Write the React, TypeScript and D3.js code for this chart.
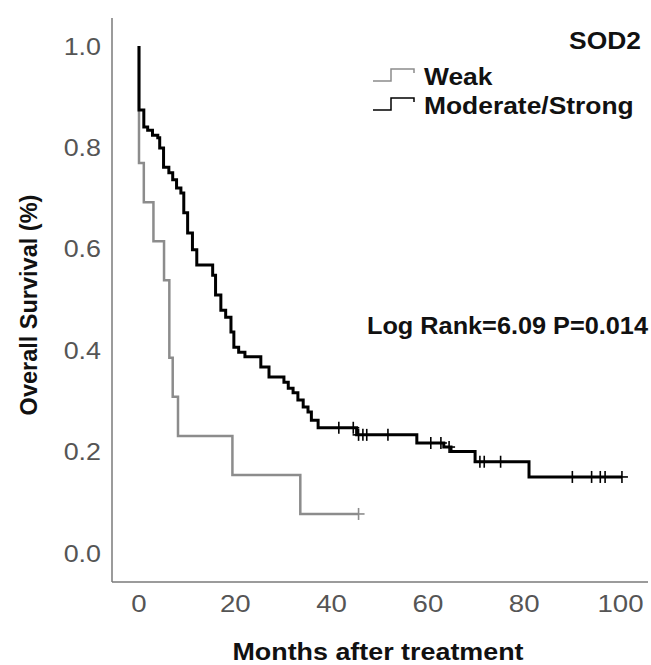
import React, { useEffect, useRef } from "react";
import * as d3 from "d3";

// Kaplan-Meier steps: survival drops to S at time t
const strongTimes = [0, 0, 1.0, 1.8, 2.8, 3.9, 4.3, 5.1, 6.2, 7.0, 7.8, 8.7, 9.3, 10.1, 11.1, 12.0, 15.3, 15.9, 17.0, 18.0, 19.1, 19.7, 20.7, 22.0, 25.3, 27.0, 30.1, 31.0, 32.0, 33.0, 34.1, 35.1, 35.8, 37.2, 45.2, 57.7, 63.3, 64.8, 69.8, 81.0];
const strongSurv = [1.0, 0.874, 0.840, 0.834, 0.824, 0.819, 0.799, 0.761, 0.750, 0.736, 0.720, 0.710, 0.671, 0.631, 0.598, 0.568, 0.548, 0.509, 0.479, 0.465, 0.436, 0.406, 0.396, 0.387, 0.367, 0.347, 0.337, 0.325, 0.316, 0.302, 0.288, 0.278, 0.262, 0.247, 0.233, 0.217, 0.209, 0.200, 0.180, 0.150];
const strongCensored = [41.5, 44.5, 45.6, 46.5, 47.3, 51.7, 60.6, 62.7, 64.4, 70.8, 71.7, 75.1, 90.0, 94.0, 95.8, 96.8, 100.3];

const weakTimes = [0, 0, 1.0, 3.0, 5.2, 6.3, 7.0, 8.1, 19.4, 33.5];
const weakSurv = [1.0, 0.769, 0.692, 0.615, 0.538, 0.385, 0.308, 0.231, 0.154, 0.077];
const weakCensored = [45.6];

const xTicks = [0, 20, 40, 60, 80, 100];
const yTicks = [0, 0.2, 0.4, 0.6, 0.8, 1.0];

const groups = [
  { name: "Weak", times: weakTimes, surv: weakSurv, censored: weakCensored, color: "#8c8c8c", width: 2.5 },
  { name: "Moderate/Strong", times: strongTimes, surv: strongSurv, censored: strongCensored, color: "#000000", width: 3 }
];

const FONT = "'Liberation Sans', Arial, sans-serif";

export default function App() {
  const ref = useRef<SVGSVGElement>(null);

  useEffect(() => {
    const svg = d3.select(ref.current);
    svg.selectAll("*").remove();

    const x = d3.scaleLinear().domain([0, 100]).range([139, 620.5]);
    const y = d3.scaleLinear().domain([0, 1]).range([553, 46]);

    // horizontally text in the source image is a bit wider than tall
    const label = (px: number, py: number, txt: string, size: number, anchor: string, bold: boolean, sx = 1.1) =>
      svg.append("text")
        .attr("transform", `translate(${px},${py}) scale(${sx},1)`)
        .attr("text-anchor", anchor).attr("font-family", FONT).attr("font-size", size)
        .attr("font-weight", bold ? "bold" : "normal")
        .attr("fill", bold ? "#111" : "#555").text(txt);

    // axis lines (box without top/right)
    svg.append("line").attr("x1", 112).attr("x2", 112).attr("y1", 18).attr("y2", 582)
      .attr("stroke", "#7a7a7a").attr("stroke-width", 1.5);
    svg.append("line").attr("x1", 112).attr("x2", 648).attr("y1", 582).attr("y2", 582)
      .attr("stroke", "#7a7a7a").attr("stroke-width", 1.5);

    // tick labels
    yTicks.forEach(d => label(101, y(d) + 8.5, d3.format(".1f")(d), 24, "end", false, 1.12));
    xTicks.forEach(d => label(x(d), 612, String(d), 24, "middle", false, 1.15));

    // curves, weak first so the black one sits on top
    const line = d3.line<[number, number]>()
      .x(d => x(d[0])).y(d => y(d[1]))
      .curve(d3.curveStepAfter);

    const stepAt = (times: number[], surv: number[], t: number) => {
      let s = surv[0];
      times.forEach((tt, i) => { if (tt <= t) s = surv[i]; });
      return s;
    };

    groups.forEach(g => {
      const pts: [number, number][] = g.times.map((t, i) => [t, g.surv[i]]);
      const end = d3.max(g.censored) as number;
      pts.push([end, g.surv[g.surv.length - 1]]);
      svg.append("path").attr("d", line(pts)).attr("fill", "none")
        .attr("stroke", g.color).attr("stroke-width", g.width);

      const marks = svg.append("g").attr("stroke", g.color).attr("stroke-width", 1.6);
      g.censored.forEach(t => {
        const cx = x(t);
        const cy = y(stepAt(g.times, g.surv, t));
        marks.append("line").attr("x1", cx).attr("x2", cx).attr("y1", cy - 6).attr("y2", cy + 6);
        marks.append("line").attr("x1", cx - 6).attr("x2", cx + 6).attr("y1", cy).attr("y2", cy);
      });
    });

    // legend
    groups.forEach((g, i) => {
      const base = 81 + i * 29;
      svg.append("path")
        .attr("d", `M373,${base}H391V${base - 12}H414V${base - 8}`)
        .attr("fill", "none").attr("stroke", g.color).attr("stroke-width", 1.5);
      label(424, base + 4, g.name, 24, "start", true, 1.1);
    });

    label(641, 49, "SOD2", 24, "end", true, 1.1);
    label(648, 334, "Log Rank=6.09 P=0.014", 23, "end", true, 1.1);

    // axis titles
    label(378, 660, "Months after treatment", 24, "middle", true, 1.12);

    svg.append("text").attr("transform", "translate(37,305) rotate(-90)").attr("text-anchor", "middle")
      .attr("font-family", FONT).attr("font-size", 23.5).attr("font-weight", "bold")
      .attr("fill", "#111").text("Overall Survival (%)");
  }, []);

  return (
    <svg ref={ref} width={651} height={665}
      style={{ position: "absolute", left: 0, top: 0, background: "#fff" }} />
  );
}
